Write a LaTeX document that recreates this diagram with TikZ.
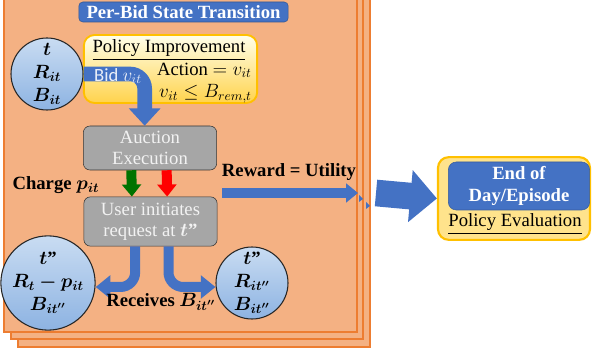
\documentclass[tikz,border=0pt]{standalone}
\usepackage{fontspec}
\usepackage{amsmath,bm}
\setmainfont{Liberation Serif}[BoldFont={Liberation Serif Bold},ItalicFont={Liberation Serif Italic},BoldItalicFont={Liberation Serif Bold Italic}]
\newfontfamily\bidfont{Carlito}
\usetikzlibrary{arrows.meta}
\definecolor{frameline}{HTML}{ED7D31}
\definecolor{framefill}{HTML}{F4B183}
\definecolor{boxblue}{HTML}{4472C4}
\definecolor{gold}{HTML}{FFC000}
\definecolor{statetop}{HTML}{C9DCF2}
\definecolor{statebottom}{HTML}{8DB3E2}

\begin{document}
\begin{tikzpicture}[x=0.75pt,y=-0.75pt,font=\fontsize{14}{16}\selectfont,
  frame/.style={draw=frameline,fill=framefill,line width=1.6pt},
  state/.style={circle,draw=black!85,thick,top color=statetop,bottom color=statebottom,minimum size=54pt,inner sep=0pt,align=center,font=\fontsize{14}{17}\selectfont},
  grayblock/.style={draw=black!80,fill=black!35,rounded corners=5pt,minimum width=100pt,align=center,text=white!95!black,inner sep=1pt},
  fat/.style={draw=boxblue,rounded corners=11pt,line width=#1},
  label/.style={font=\fontsize{14}{16}\selectfont\bfseries}]
\useasboundingbox (0,0) rectangle (593,352);
% stacked frames
\draw[frame] (18,-10) rectangle (370,347);
\draw[frame] (11,-10) rectangle (363,339);
\draw[frame] (4,-10) rectangle (357,332);
\node[draw=boxblue!75!black,fill=boxblue,rounded corners=3pt,text=white,font=\fontsize{14}{16}\selectfont\bfseries,minimum width=157pt,minimum height=15pt,inner sep=1pt] (title) at (183.5,12) {Per-Bid State Transition};
% policy improvement
\node[draw=gold,line width=1.4pt,rounded corners=8pt,top color=yellow!8!white,bottom color=gold!70!white,minimum width=130pt,minimum height=51pt] (policy) at (170.5,69) {};
\node[inner sep=1pt] (polname) at (169,50) {\underline{Policy Improvement}};
\node[anchor=east,align=right,inner sep=0pt,font=\fontsize{14}{17}\selectfont] (action) at (252,83) {Action $=v_{it}$\\$v_{it}\leq B_{rem,t}$};
% auction and request
\node[grayblock,minimum height=33pt] (auction) at (150,148) {Auction\\Execution};
\node[grayblock,minimum height=37pt] (user) at (150.5,221.5) {User initiates\\request at $\bm{t}$\textbf{''}};
\node[state] (tnow) at (47,74) {$\bm{t}$\\$\bm{R_{it}}$\\$\bm{B_{it}}$};
\draw[fat=11pt,-{Triangle[width=23pt,length=13pt]}] (tnow.east) -| ([xshift=-4pt]auction.north);
\node[text=white!88!boxblue,font=\bidfont\fontsize{14}{16}\selectfont,inner sep=1pt] (bid) at (118,76) {Bid $v_{it}$};
\draw[line width=7.5pt,-{Triangle[width=14pt,length=9pt]},color=green!45!black] ([xshift=-14pt]auction.south) -- ([xshift=-14pt]user.north);
\draw[line width=7.5pt,-{Triangle[width=14pt,length=9pt]},color=red] ([xshift=12.5pt]auction.south) -- ([xshift=12.5pt]user.north);
\node[label] (charge) at (56,185) {Charge $\bm{p_{it}}$};
% reward
\node[label] (reward) at (289,172) {Reward = Utility};
\coordinate (rwstart) at (222,193);
\coordinate (rwend) at (358,193);
\draw[fat=7pt,-{Triangle[width=14pt,length=9pt]}] (rwstart) -- (rwend);
\fill[boxblue] (359,195) -- (363,199) -- (359,202) -- cycle;
\fill[boxblue] (366,202) -- (370,206) -- (366,209) -- cycle;
% next states
\node[state] (tleft) at (48,283) {$\bm{t}$\textbf{''}\\$\bm{R_t-p_{it}}$\\$\bm{B_{it''}}$};
\node[state] (tright) at (252,283) {$\bm{t}$\textbf{''}\\$\bm{R_{it''}}$\\$\bm{B_{it''}}$};
\draw[fat=7.5pt,-{Triangle[width=17pt,length=11pt]}] ([xshift=-11.5pt]user.south) |- ([yshift=-3pt]tleft.east);
\draw[fat=7.5pt,-{Triangle[width=17pt,length=11pt]}] ([xshift=13.5pt]user.south) |- ([yshift=-3pt]tright.west);
\node[label] (receives) at (161,302) {Receives $\bm{B_{it''}}$};
% end of episode
\coordinate (bigstart) at (376,193);
\node[draw=gold,line width=1.6pt,rounded corners=8pt,fill=gold!45!white,minimum width=114pt,minimum height=62pt] (episode) at (514,198.5) {};
\node[draw=boxblue!80!black,fill=boxblue,rounded corners=6pt,text=white,font=\fontsize{14}{16}\selectfont\bfseries,align=center,minimum width=106pt,minimum height=36pt,inner sep=1pt] (dayend) at (519,186) {End of\\Day/Episode};
\node (evaluation) at (515,224) {\underline{Policy Evaluation}};
\draw[draw=boxblue,line width=20pt,-{Triangle[width=38pt,length=20pt]}] (bigstart) -- (episode.west);
\end{tikzpicture}
\end{document}
